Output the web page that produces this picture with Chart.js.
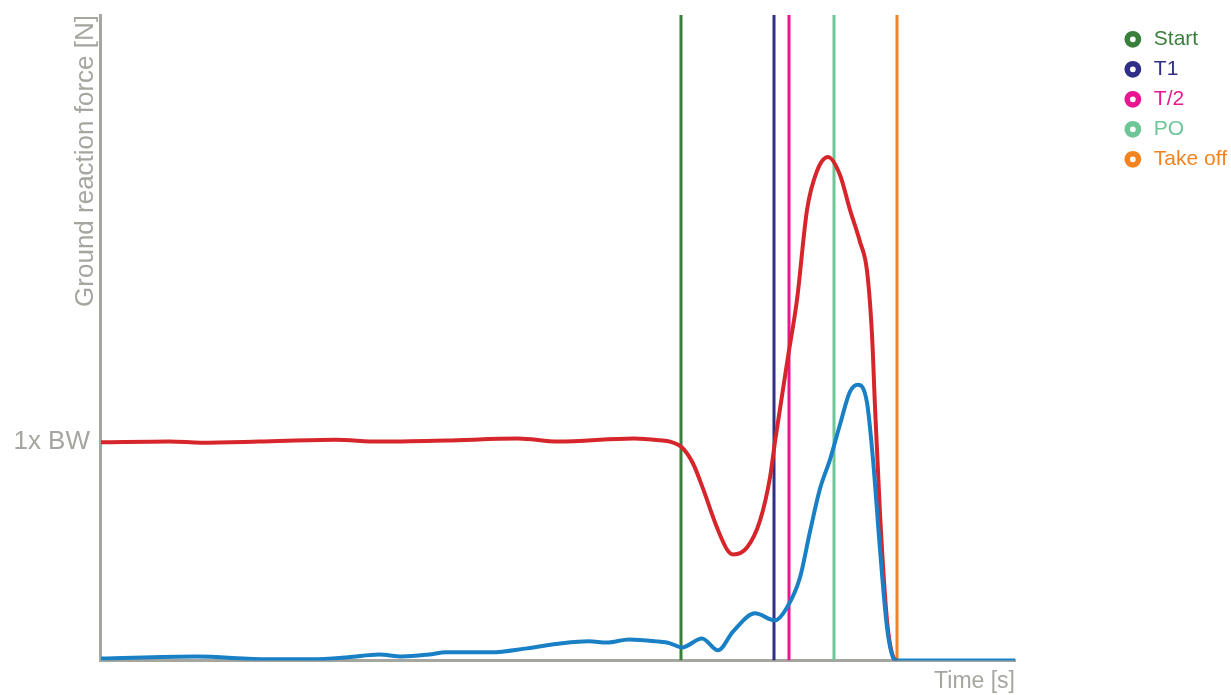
<!DOCTYPE html>
<html>
<head>
<meta charset="utf-8">
<script src="https://cdn.jsdelivr.net/npm/chart.js@4.4.1/dist/chart.umd.min.js"></script>
<style>
  body { margin: 0; background: #fff; }
  #wrap { width: 1231px; height: 695px; }
</style>
</head>
<body>
<div id="wrap"><canvas id="grf"></canvas></div>
<script>
// red trace (time, force in body weights)
const redTime = [0.01, 0.70, 1.01, 1.59, 2.35, 2.79, 3.46, 4.18, 4.58, 5.34, 5.60, 5.70, 5.82, 5.93, 6.03, 6.17, 6.27, 6.33, 6.47, 6.60, 6.70, 6.75, 6.88, 6.97, 7.07, 7.17, 7.28, 7.40, 7.50, 7.60, 7.67, 7.72, 7.75, 7.80, 7.87, 7.93, 7.97];
const redForce = [0.997, 1.001, 0.995, 1.000, 1.009, 1.000, 1.005, 1.014, 1.000, 1.014, 1.006, 1.000, 0.973, 0.900, 0.785, 0.607, 0.507, 0.484, 0.516, 0.639, 0.836, 1.000, 1.388, 1.648, 2.059, 2.237, 2.301, 2.219, 2.059, 1.913, 1.781, 1.489, 1.160, 0.671, 0.183, 0.018, 0.000];

// blue trace
const blueTime = [0.01, 0.96, 1.68, 2.12, 2.48, 2.79, 3.02, 3.29, 3.46, 3.91, 4.27, 4.62, 4.89, 5.07, 5.29, 5.56, 5.70, 5.82, 6.02, 6.18, 6.33, 6.55, 6.75, 6.87, 7.00, 7.10, 7.20, 7.30, 7.40, 7.50, 7.58, 7.67, 7.73, 7.80, 7.87, 7.93, 7.97, 8.50, 9.15];
const blueForce = [0.009, 0.018, 0.005, 0.005, 0.014, 0.027, 0.018, 0.027, 0.037, 0.037, 0.055, 0.078, 0.087, 0.082, 0.096, 0.087, 0.078, 0.059, 0.100, 0.046, 0.132, 0.215, 0.183, 0.242, 0.379, 0.589, 0.785, 0.918, 1.078, 1.228, 1.260, 1.178, 0.918, 0.507, 0.151, 0.014, 0.000, 0.000, 0.000];

// event markers
const eventNames = ['Start', 'T1', 'T/2', 'PO', 'Take off'];
const eventTimes = [5.81, 6.74, 6.89, 7.34, 7.97];

const X_MAX = 9.15;
const Y_MAX = 2.95;

const eventColors = ['#3a7f3c', '#2f2f86', '#e8168f', '#6dc695', '#f4821f'];
const grey = '#a4a69f';
const fontFamily = '"Liberation Sans", Arial, sans-serif';
const PLOT_RIGHT = 1015;   // where the time axis ends
const LEGEND_NUDGE = 6;    // legend sits a bit closer to the right edge

const pairs = (xs, ys) => xs.map((x, i) => ({ x: x, y: ys[i] }));

const datasets = [
  {
    label: 'Blue trace',
    data: pairs(blueTime, blueForce),
    borderColor: '#1a80c6',
    borderWidth: 4,
    pointRadius: 0,
    cubicInterpolationMode: 'monotone'
  },
  {
    label: 'Red trace',
    data: pairs(redTime, redForce),
    borderColor: '#d7262b',
    borderWidth: 4,
    pointRadius: 0,
    cubicInterpolationMode: 'monotone'
  }
];

eventNames.forEach((name, i) => {
  datasets.push({
    label: name,
    data: [{ x: eventTimes[i], y: 0 }, { x: eventTimes[i], y: Y_MAX }],
    borderColor: eventColors[i],
    backgroundColor: '#ffffff',
    borderWidth: 3,
    pointRadius: 0,
    pointStyle: 'circle'
  });
});

new Chart(document.getElementById('grf'), {
  type: 'line',
  data: { datasets: datasets },
  options: {
    responsive: true,
    maintainAspectRatio: false,
    animation: false,
    layout: { padding: { top: 15, left: 0, right: -LEGEND_NUDGE, bottom: 0 } },
    plugins: {
      tooltip: { enabled: false },
      legend: {
        position: 'right',
        align: 'start',
        title: { display: true, text: '', font: { size: 4 }, padding: 0 },
        labels: {
          usePointStyle: true,
          boxHeight: 8,
          padding: 9,
          font: { size: 21, family: fontFamily },
          filter: item => item.datasetIndex > 1,
          generateLabels: chart =>
            Chart.defaults.plugins.legend.labels.generateLabels(chart).map(item =>
              Object.assign(item, { fontColor: item.strokeStyle, fillStyle: '#ffffff', lineWidth: 5.5 }))
        }
      }
    },
    scales: {
      x: {
        type: 'linear',
        min: 0,
        max: X_MAX,
        grid: { display: false, drawTicks: false },
        border: { color: grey, width: 3 },
        ticks: { display: false },
        title: {
          display: true,
          text: 'Time [s]',
          align: 'end',
          color: grey,
          font: { size: 23, family: fontFamily },
          padding: { top: 7, bottom: 0 }
        }
      },
      y: {
        min: 0,
        max: Y_MAX,
        grid: { display: false, drawTicks: false },
        border: { color: grey, width: 3 },
        afterBuildTicks: s => { s.ticks = [{ value: 1 }]; },
        ticks: {
          color: grey,
          padding: 10,
          font: { size: 26, family: fontFamily },
          callback: v => (v === 1 ? '1x BW' : '')
        },
        title: {
          display: true,
          text: 'Ground reaction force [N]',
          align: 'end',
          color: grey,
          font: { size: 26, family: fontFamily },
          padding: { top: 70, bottom: 0 }
        },
        afterFit: s => {
          s.width = 100;
          s.paddingTop = 0;
          s.paddingBottom = 0;
        }
      },
      gap: {
        type: 'linear',
        position: 'right',
        grid: { display: false, drawTicks: false },
        border: { display: false },
        ticks: { display: false },
        afterFit: s => {
          const lw = s.chart.legend && s.chart.legend.width ? s.chart.legend.width : 120;
          s.width = Math.max(0, s.chart.width + LEGEND_NUDGE - PLOT_RIGHT - lw);
        }
      }
    }
  }
});
</script>
</body>
</html>
